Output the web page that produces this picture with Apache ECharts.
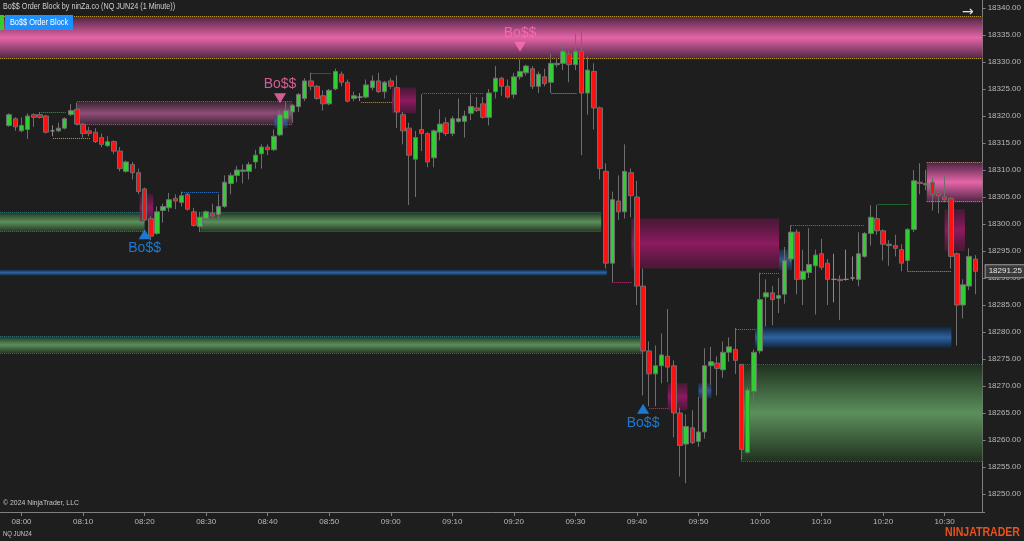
<!DOCTYPE html>
<html><head><meta charset="utf-8">
<script src="https://cdn.jsdelivr.net/npm/echarts@6/dist/echarts.min.js"></script>
<style>html,body{margin:0;padding:0;background:#1e1e1e;}#c{width:1024px;height:541px;}</style>
</head><body><div id="c"></div>
<script>
// ---------- DATA ----------
const times = ["07:57","07:58","07:59",
"08:00","08:01","08:02","08:03","08:04","08:05","08:06","08:07","08:08","08:09",
"08:10","08:11","08:12","08:13","08:14","08:15","08:16","08:17","08:18","08:19",
"08:20","08:21","08:22","08:23","08:24","08:25","08:26","08:27","08:28","08:29",
"08:30","08:31","08:32","08:33","08:34","08:35","08:36","08:37","08:38","08:39",
"08:40","08:41","08:42","08:43","08:44","08:45","08:46","08:47","08:48","08:49",
"08:50","08:51","08:52","08:53","08:54","08:55","08:56","08:57","08:58","08:59",
"09:00","09:01","09:02","09:03","09:04","09:05","09:06","09:07","09:08","09:09",
"09:10","09:11","09:12","09:13","09:14","09:15","09:16","09:17","09:18","09:19",
"09:20","09:21","09:22","09:23","09:24","09:25","09:26","09:27","09:28","09:29",
"09:30","09:31","09:32","09:33","09:34","09:35","09:36","09:37","09:38","09:39",
"09:40","09:41","09:42","09:43","09:44","09:45","09:46","09:47","09:48","09:49",
"09:50","09:51","09:52","09:53","09:54","09:55","09:56","09:57","09:58","09:59",
"10:00","10:01","10:02","10:03","10:04","10:05","10:06","10:07","10:08","10:09",
"10:10","10:11","10:12","10:13","10:14","10:15","10:16","10:17","10:18","10:19",
"10:20","10:21","10:22","10:23","10:24","10:25","10:26","10:27","10:28","10:29",
"10:30","10:31","10:32","10:33","10:34","10:35","10:36"];

// [open, close, low, high] for bars 07:58 .. 10:35
const candles = [
[18318.25,18320.25,18318,18320.5],[18319.5,18318,18317.25,18319.75],[18317.25,18318.25,18317,18319.75],
[18317.5,18320,18315.75,18320.5],[18320.25,18319.75,18318,18320.5],[18320.25,18319.75,18319.5,18320.75],
[18320,18317,18316.75,18320.25],[18317.25,18317.25,18316.25,18318.25],[18317.25,18317.75,18317,18318.75],
[18317.75,18319.5,18317.5,18319.75],[18320.25,18321,18320,18322.25],[18321.25,18318.5,18318.25,18322.5],
[18318.5,18316.75,18316,18318.75],[18317.25,18316.75,18316.25,18318],[18317,18315.25,18315,18317.75],
[18316,18314.75,18314.25,18316.75],[18314.5,18315.25,18314.25,18316.25],[18315.25,18313.5,18313,18315.5],
[18313.5,18310.25,18309.75,18314.25],[18309.75,18311.5,18309.5,18311.75],[18311,18309.5,18308.25,18311.5],
[18309.5,18306,18305.5,18310.25],[18306.5,18300.75,18300.5,18306.75],[18301,18297.75,18297,18301.5],
[18298.25,18302.25,18298,18303.25],[18302.5,18303.25,18300.25,18303.75],[18303,18304.5,18302.25,18305.75],
[18304.75,18304.25,18302.75,18305.5],[18304,18305.25,18303.25,18306],[18305.5,18302.75,18302.5,18305.75],
[18302.25,18299.75,18299.5,18303],[18299.5,18301.25,18298.5,18302.25],[18301,18302.25,18300.75,18302.5],
[18302,18301.5,18301.25,18303.75],[18301.75,18303.25,18300.5,18305.5],[18303.25,18307.75,18303,18309],
[18307.5,18309,18305.5,18309.5],[18309,18310,18307.75,18310.75],[18309.75,18310,18307.5,18311],
[18309.75,18311,18308.25,18311.5],[18311.5,18312.75,18310.25,18313.75],[18313,18314.25,18310.25,18314.75],
[18314.25,18313.75,18312.75,18314.75],[18313.75,18316.25,18313.5,18317.5],[18316.5,18320.25,18316.25,18321],
[18319.5,18321,18319.25,18322.75],[18320.75,18322,18318.75,18322.25],[18321.75,18324,18320.75,18324.25],
[18323.25,18326.5,18322.75,18327],[18326.5,18325.5,18324.75,18328],[18325.5,18323.25,18323,18325.75],
[18323.75,18322.25,18321,18324.75],[18322.25,18324.75,18322,18325],[18325,18328.25,18324.75,18328.75],
[18327.75,18326.25,18325.5,18328.25],[18326.25,18322.75,18322.5,18326.75],[18323.25,18323.75,18322.75,18324.5],
[18323.5,18323.5,18322.75,18324.25],[18323.5,18325.75,18323.25,18326.75],[18325.25,18326.5,18324.75,18327.5],
[18326.5,18324.5,18324.25,18328],[18324.5,18326.25,18323.25,18326.5],[18326.5,18325.5,18325,18327],
[18325.25,18320.75,18317.75,18327.5],[18320.25,18317.25,18314.75,18320.75],[18317.75,18312.75,18303.5,18318.75],
[18312,18316,18305,18317.25],[18317.5,18316.75,18313.5,18324],[18316.75,18311.5,18310.5,18317],
[18312.25,18317.25,18310.5,18317.5],[18317,18318.5,18315.5,18321.25],[18318.75,18316.75,18316.25,18319.75],
[18316.75,18319.5,18316.25,18320],[18319,18319.5,18318.75,18323.25],[18319,18320,18316,18321],
[18320.5,18321.75,18319.25,18324],[18321.5,18321,18320.75,18323.5],[18322.25,18319.75,18319.5,18323.5],
[18319.75,18324.25,18318.25,18325],[18324.5,18327,18323.25,18329.25],[18327,18325.5,18323.75,18327.25],
[18325.5,18323.5,18323.25,18326.75],[18324,18327.25,18323.25,18328],[18327.25,18328.25,18326.75,18330.5],
[18328,18329.25,18327.5,18329.5],[18328.75,18325.5,18325,18329.25],[18325.5,18327.75,18324.25,18328.25],
[18327.25,18326,18325.5,18328.75],[18326.25,18329.75,18324.25,18331.5],[18329.5,18329.75,18329,18330.75],
[18329.75,18332,18328.5,18333.5],[18331.5,18329.5,18326.25,18332],[18329.5,18332,18328.5,18335.25],
[18332,18324.25,18312.75,18336.25],[18324.25,18328.5,18320.25,18331],[18328.25,18321.5,18317.5,18329.75],
[18321.5,18310.25,18308.25,18321.75],[18309.75,18292.75,18291.75,18311.25],[18292.75,18304.5,18289.25,18306],
[18304.25,18302.25,18300.75,18309],[18302.25,18309.75,18301,18314.75],[18309.5,18305.25,18301.25,18310.25],
[18305,18288.5,18285,18308],[18288.5,18276.5,18268.25,18291.75],[18276.5,18272.25,18266.25,18278.25],
[18272.25,18273.75,18266.25,18277.5],[18273.75,18275.75,18270.5,18279.75],[18275.5,18273.5,18270.75,18284.25],
[18273.75,18265,18260.5,18274.75],[18265,18259,18253.25,18266],[18259.25,18262.5,18252,18264.75],
[18262.25,18259.5,18259.25,18265.5],[18259.75,18261.5,18258.75,18268],[18261.5,18273.75,18260.25,18277],
[18273.75,18274.5,18270.25,18277.25],[18274.25,18273.25,18268.25,18275.5],[18273,18276.25,18271.5,18278.25],
[18276.25,18277.25,18274.5,18279],[18276.75,18274.75,18272.25,18280.75],[18274,18258.25,18256.25,18274],
[18257.75,18269.25,18257.5,18269.75],[18269,18276.25,18266.75,18276.75],[18276.5,18286,18276,18291],
[18286.5,18287.25,18281,18289.75],[18287.25,18286,18281.25,18288.5],[18286.25,18286.75,18283.5,18290],
[18287,18293.25,18285.25,18295.75],[18293.5,18298.5,18293,18299.75],[18298.5,18289.75,18287,18299],
[18289.75,18291.25,18285,18295.25],[18291,18292.5,18290,18299.25],[18292.25,18294.25,18283.25,18295.25],
[18294.5,18292,18291.5,18297.25],[18292.75,18289.75,18285,18293.5],[18289.75,18289.75,18285.5,18294.5],
[18289.75,18289.5,18282.25,18290.5],[18289.75,18289.75,18289.5,18295.25],[18290,18290,18289.5,18294],
[18289.75,18294.5,18288.5,18298.5],[18294,18298.25,18293.75,18298.5],[18298.25,18301.25,18296,18303.5],
[18301,18298.75,18298,18303.5],[18298.75,18296.25,18293.25,18299],[18296,18296.25,18292.25,18297],
[18296,18295.5,18294,18298],[18295.25,18292.75,18291.25,18296.25],[18293.25,18299,18291.25,18299.25],
[18299,18308,18298.5,18310],[18307.75,18307.5,18305.5,18311.25],[18307.25,18307.5,18306.25,18310],
[18307.75,18305.5,18302.5,18308.5],[18305.75,18305.25,18302,18306.5],[18305,18304.5,18304,18309],
[18304.75,18294,18291.75,18305],[18294.5,18285,18277.5,18294.75],[18285,18288.75,18282.5,18289.75],
[18288.5,18294,18287.75,18295.5],[18293.5,18291.25,18287,18294.25]
];
const lastPrice = 18291.25;
const yTicks = [18250,18255,18260,18265,18270,18275,18280,18285,18290,18295,18300,18305,18310,18315,18320,18325,18330,18335,18340];

// zones: [startIndex, endIndex, topPrice, bottomPrice] (category index units)
const pinkZones = [[-0.5,159.15,18338.5,18330.5],[150.1,159.15,18311.5,18304]];
const mutedPinkZones = [[12.0,47.0,18322.75,18318.25]];
const magentaZones = [[22.2,24.4,18305.5,18300.5],[63.2,67.1,18325.25,18320.5],[102.1,126.1,18301,18291.75],
  [108.0,111.2,18270.5,18265.5],[153.0,156.3,18302.75,18295]];
const greenZones = [[-0.5,23.0,18302.25,18298.5],[32.1,97.2,18302.25,18298.5],[-0.5,104.1,18279.25,18276],
  [119.9,159.15,18274,18256]];
const blueZones = [[-0.5,98.1,18291.6,18290.4],[122.2,154.1,18281,18277]];
const blueGlows = [[44.1,46.2,18320.25,18317.75],[113.0,115.1,18270.5,18267.75],[126.1,128.2,18295.25,18291.5]];

// dotted levels: [startIndex, endIndex, price]
const greenLevels = [[6.2,10.2,18320.75],[50.1,53.2,18328],[123.0,126.2,18291],[128.0,140.0,18299.75],[142.1,147.2,18303.75]];
const goldLevels = [[8.1,14.1,18316],[58.2,63.2,18322.5],[89.1,93.2,18324.25],[147.0,154.1,18291.25]];
const blueLevels = [[29.1,35.1,18306],[68.1,78.1,18324.25],[119.1,122.2,18280.5]];
const pinkLevels = [[99.0,102.1,18289.25],[105.0,108.1,18266]];

const bossUp = [["08:20",18298.1],["09:41",18265.8]];
const bossDown = [["08:42",18323.3],["09:21",18332.8]];

const Y_MAX = 18341.48, Y_MIN = 18246.67;

// ---------- CHART ----------
const chart = echarts.init(document.getElementById('c'));
const NARROW = '"Liberation Sans Narrow","Liberation Sans",sans-serif';

function grad(edge, mid) {
  return new echarts.graphic.LinearGradient(0,0,0,1,[{offset:0,color:edge},{offset:0.5,color:mid},{offset:1,color:edge}]);
}
function zoneSeries(data, edge, mid, border, z) {
  return {
    type:'custom', silent:true, z:z, clip:true,
    dimensions:[{name:'x0',type:'float'},{name:'x1',type:'float'},{name:'t',type:'float'},{name:'b',type:'float'}],
    encode:{x:0, y:[2,3]},
    data:data,
    renderItem:function(params, api){
      const band = api.size([1,0])[0];
      const a = api.coord([0, api.value(2)]);
      const b = api.coord([0, api.value(3)]);
      const x0 = a[0] + api.value(0)*band, x1 = a[0] + api.value(1)*band;
      const ch = [{type:'rect', shape:{x:x0, y:a[1], width:x1-x0, height:b[1]-a[1]}, style:{fill:grad(edge, mid)}}];
      if (border) {
        ch.push({type:'line', shape:{x1:x0,y1:Math.round(a[1])+0.5,x2:x1,y2:Math.round(a[1])+0.5}, style:{stroke:border,lineWidth:1,lineDash:[1,1]}});
        ch.push({type:'line', shape:{x1:x0,y1:Math.round(b[1])-0.5,x2:x1,y2:Math.round(b[1])-0.5}, style:{stroke:border,lineWidth:1,lineDash:[1,1]}});
      }
      return {type:'group', children:ch};
    }
  };
}
function levelSeries(data, color) {
  return {
    type:'custom', silent:true, z:3, clip:true,
    dimensions:[{name:'x0',type:'float'},{name:'x1',type:'float'},{name:'p',type:'float'}],
    encode:{x:0, y:2},
    data:data,
    renderItem:function(params, api){
      const band = api.size([1,0])[0];
      const a = api.coord([0, api.value(2)]);
      const y = Math.round(a[1])+0.5;
      return {type:'line', shape:{x1:a[0]+api.value(0)*band, y1:y, x2:a[0]+api.value(1)*band, y2:y},
        style:{stroke:color, lineWidth:1, lineDash:[1,1]}};
    }
  };
}
const showTime = function(idx, val){ return typeof val === 'string' && val.slice(-1) === '0'; };

const option = {
  backgroundColor:'#1e1e1e',
  animation:false,
  grid:{left:0, right:37, top:0, bottom:29},
  xAxis:{
    type:'category', data:times, boundaryGap:true,
    axisLine:{show:true, lineStyle:{color:'#808080'}},
    axisTick:{show:true, interval:showTime, alignWithLabel:true, length:4, lineStyle:{color:'#808080'}},
    axisLabel:{interval:showTime, color:'#b8b8b8', fontSize:8, fontFamily:NARROW, margin:6},
    splitLine:{show:false}
  },
  yAxis:{
    type:'value', position:'right', offset:-2, min:Y_MIN, max:Y_MAX, scale:true,
    axisLine:{show:true, lineStyle:{color:'#808080'}},
    axisTick:{show:true, customValues:yTicks, length:3, lineStyle:{color:'#808080'}},
    axisLabel:{customValues:yTicks, formatter:function(v){return v.toFixed(2);}, color:'#b8b8b8', fontSize:8, fontFamily:NARROW, margin:5},
    splitLine:{show:false}
  },
  series:[
    zoneSeries(greenZones, '#1f311f', '#5c8f5c', '#2b6a72', 1),
    zoneSeries(blueZones, '#102338', '#2d63a0', null, 1),
    zoneSeries(pinkZones, '#4a2340', '#e565a8', '#b89a28', 1),
    zoneSeries(mutedPinkZones, '#37232f', '#8f4d79', '#7c6630', 1),
    zoneSeries(magentaZones, 'rgba(110,20,75,0.55)', 'rgba(148,26,100,0.95)', null, 2),
    zoneSeries(blueGlows, 'rgba(35,80,130,0.35)', 'rgba(45,100,165,0.85)', null, 2),
    levelSeries(greenLevels, '#2fa040'),
    levelSeries(goldLevels, '#c8961e'),
    levelSeries(blueLevels, '#2f7ad2'),
    levelSeries(pinkLevels, '#c3307c'),
    {
      type:'candlestick', z:5, barWidth:5,
      data:['-'].concat(candles),
      itemStyle:{color:'#32cd32', color0:'#ff1010', borderColor:'#6e6e6e', borderColor0:'#6e6e6e', borderColorDoji:'#8a8a8a', borderWidth:1},
      markLine:{
        silent:true, symbol:'none', animation:false,
        lineStyle:{color:'rgba(0,0,0,0)', width:0},
        data:[{yAxis:lastPrice}],
        label:{show:true, position:'end', distance:1, formatter:function(){return lastPrice.toFixed(2);},
          color:'#e6e6e6', fontSize:8, fontFamily:NARROW, backgroundColor:'#3a3a3a', borderColor:'#a0a0a0', borderWidth:1, padding:[2,3,2,3]}
      }
    },
    {
      type:'scatter', z:6, data:bossUp, symbol:'triangle', symbolSize:[12,10],
      itemStyle:{color:'#1e8fff'},
      label:{show:true, position:'bottom', distance:2, formatter:'Bo$$', color:'#1e8fff', fontSize:14, fontFamily:'"Liberation Sans",sans-serif'}
    },
    {
      type:'scatter', z:6, data:bossDown, symbol:'triangle', symbolRotate:180, symbolSize:[12,10],
      itemStyle:{color:'#ff6eb4'},
      label:{show:true, position:'top', distance:2, formatter:'Bo$$', color:'#ff6eb4', fontSize:14, fontFamily:'"Liberation Sans",sans-serif'}
    }
  ],
  graphic:[
    {type:'text', x:3, y:2, scaleX:0.8, z:100, style:{text:'Bo$$ Order Block by ninZa.co (NQ JUN24 (1 Minute))', fill:'#cfcfcf', font:'9px '+NARROW}},
    {type:'rect', x:0, y:15, z:100, shape:{width:4, height:15}, style:{fill:'#32cd32'}},
    {type:'rect', x:5, y:15, z:100, shape:{width:68, height:15}, style:{fill:'#1e8fff'}},
    {type:'text', x:39, y:18, scaleX:0.82, z:101, style:{text:'Bo$$ Order Block', fill:'#ffffff', font:'9px '+NARROW, textAlign:'center'}},
    {type:'text', x:962, y:5, z:100, style:{text:'\u2192', fill:'#e0e0e0', font:'14px "DejaVu Sans",sans-serif'}},
    {type:'text', x:3, y:499, scaleX:0.86, z:100, style:{text:'\u00a9 2024 NinjaTrader, LLC', fill:'#c8c8c8', font:'8px '+NARROW}},
    {type:'text', x:3, y:531, scaleX:0.85, z:100, style:{text:'NQ JUN24', fill:'#c8c8c8', font:'7px '+NARROW}},
    {type:'text', x:1020, y:527, scaleX:0.88, z:100, style:{text:'NINJATRADER', fill:'#e8521e', font:'bold 12px '+NARROW, textAlign:'right'}}
  ]
};
chart.setOption(option);
</script>
</body></html>
